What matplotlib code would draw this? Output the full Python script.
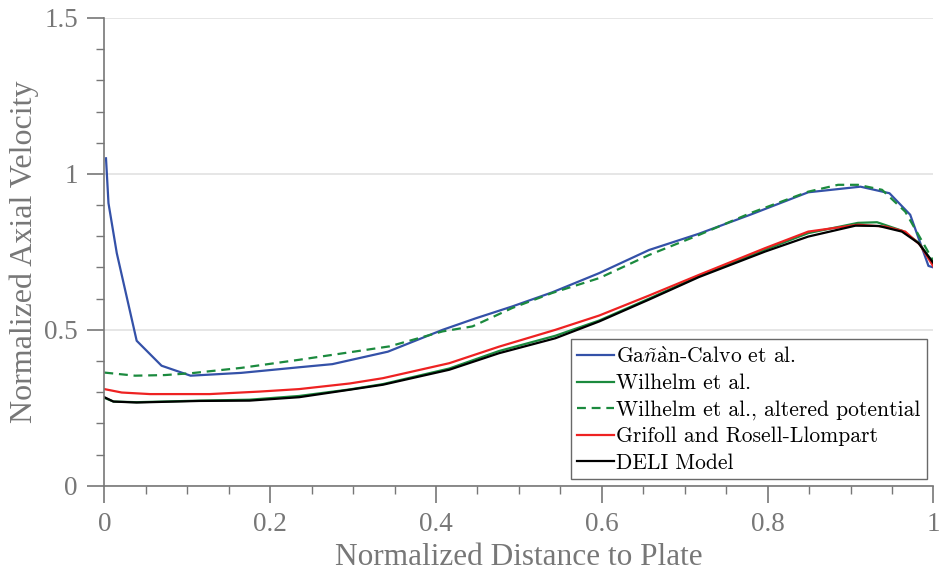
import matplotlib
matplotlib.use("Agg")
import matplotlib.pyplot as plt
from matplotlib.ticker import MultipleLocator

plt.rcParams['mathtext.fontset'] = 'cm'

# Gañàn-Calvo et al.
x_gc = [0.002, 0.005, 0.015, 0.039, 0.069, 0.104, 0.165, 0.235, 0.275, 0.342, 0.408,
        0.448, 0.492, 0.540, 0.597, 0.657, 0.717, 0.780, 0.849, 0.912, 0.947, 0.972, 0.994, 1.0]
y_gc = [1.05, 0.906, 0.746, 0.465, 0.385, 0.353, 0.362, 0.380, 0.390, 0.430, 0.500,
        0.537, 0.575, 0.620, 0.682, 0.756, 0.808, 0.870, 0.941, 0.959, 0.938, 0.869, 0.705, 0.70]

# Wilhelm et al., altered potential
x_wa = [0.0, 0.037, 0.073, 0.105, 0.165, 0.235, 0.344, 0.408, 0.444, 0.492, 0.540,
        0.597, 0.657, 0.717, 0.780, 0.849, 0.885, 0.909, 0.938, 0.966, 0.990, 1.0]
y_wa = [0.363, 0.353, 0.355, 0.361, 0.378, 0.404, 0.447, 0.495, 0.511, 0.570, 0.618,
        0.666, 0.740, 0.804, 0.875, 0.943, 0.965, 0.965, 0.949, 0.879, 0.767, 0.72]

# Grifoll and Rosell-Llompart
x_gr = [0.0, 0.021, 0.055, 0.127, 0.187, 0.235, 0.296, 0.336, 0.416, 0.476, 0.544,
        0.597, 0.657, 0.717, 0.797, 0.849, 0.909, 0.942, 0.966, 0.984, 1.0]
y_gr = [0.310, 0.299, 0.294, 0.294, 0.302, 0.310, 0.328, 0.345, 0.393, 0.446, 0.500,
        0.546, 0.610, 0.676, 0.762, 0.815, 0.837, 0.831, 0.815, 0.772, 0.703]

# Wilhelm et al.
x_wi = [0.0, 0.011, 0.039, 0.115, 0.175, 0.235, 0.296, 0.336, 0.416, 0.476, 0.544,
        0.597, 0.657, 0.717, 0.797, 0.849, 0.909, 0.932, 0.962, 0.982, 1.0]
y_wi = [0.282, 0.270, 0.268, 0.273, 0.276, 0.288, 0.309, 0.326, 0.376, 0.432, 0.481,
        0.530, 0.600, 0.672, 0.757, 0.810, 0.843, 0.845, 0.818, 0.780, 0.714]

# DELI Model
x_de = [0.0, 0.011, 0.039, 0.115, 0.175, 0.235, 0.296, 0.336, 0.416, 0.476, 0.544,
        0.597, 0.657, 0.717, 0.797, 0.849, 0.906, 0.934, 0.962, 0.982, 1.0]
y_de = [0.284, 0.270, 0.267, 0.272, 0.273, 0.284, 0.308, 0.324, 0.372, 0.425, 0.473,
        0.527, 0.597, 0.669, 0.751, 0.799, 0.834, 0.833, 0.815, 0.778, 0.714]

GRAY = "#777777"

fig = plt.figure(figsize=(9.4, 5.79), dpi=100)
ax = fig.add_axes([0.111, 0.161, 0.882, 0.808])

ax.plot(x_gc, y_gc, color="#3451a8", lw=1.6, label=r"Ga$\tilde{n}\mathrm{\grave{a}}$n-Calvo et al.")
ax.plot(x_wi, y_wi, color="#1b8a3e", lw=1.6, label="Wilhelm et al.")
ax.plot(x_wa, y_wa, color="#1b8a3e", lw=1.6, ls=(0, (4.0, 2.6)), label="Wilhelm et al., altered potential")
ax.plot(x_gr, y_gr, color="#ee2222", lw=1.6, label="Grifoll and Rosell-Llompart")
ax.plot(x_de, y_de, color="black", lw=1.6, label="DELI Model")

ax.set_xlim(0, 1)
ax.set_ylim(0, 1.5)
ax.xaxis.set_minor_locator(MultipleLocator(0.05))
ax.yaxis.set_minor_locator(MultipleLocator(0.1))
ax.set_xticks([0, 0.2, 0.4, 0.6, 0.8, 1.0])
ax.set_yticks([0, 0.5, 1.0, 1.5])
ax.set_xticklabels(["0", "0.2", "0.4", "0.6", "0.8", "1"])
ax.set_yticklabels(["0", "0.5", "1", "1.5"])

ax.grid(axis="y", which="major", color="#e2e2e2", lw=1.2)
ax.set_axisbelow(True)
for s in ["top", "right"]:
    ax.spines[s].set_visible(False)
for s in ["left", "bottom"]:
    ax.spines[s].set_color(GRAY)
    ax.spines[s].set_linewidth(1.2)

ax.tick_params(which="major", length=12, width=1.2, color=GRAY, labelcolor=GRAY,
               labelsize=19.5, pad=7)
ax.tick_params(which="minor", length=6, width=1.0, color=GRAY)
for lab in ax.get_xticklabels() + ax.get_yticklabels():
    lab.set_family("Liberation Serif")

ax.set_xlabel("Normalized Distance to Plate", family="Liberation Serif", fontsize=22.5,
              color=GRAY, labelpad=4)
ax.set_ylabel("Normalized Axial Velocity", family="Liberation Serif", fontsize=23,
              color=GRAY, labelpad=4)

leg = ax.legend(loc="lower right", bbox_to_anchor=(0.997, 0.005),
                prop={"family": "cmr10", "size": 15.5}, frameon=True, fancybox=False,
                handlelength=1.7, handletextpad=0.1, labelspacing=0.32,
                borderpad=0.3, borderaxespad=0.2)
leg.get_frame().set_edgecolor("#444444")
leg.get_frame().set_linewidth(1.0)

fig.savefig("out.png", dpi=100)
